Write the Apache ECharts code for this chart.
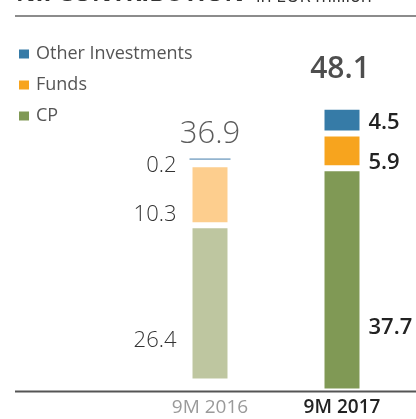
<!DOCTYPE html>
<html>
<head>
<meta charset="utf-8">
<script src="https://cdn.jsdelivr.net/npm/echarts@6/dist/echarts.min.js"></script>
<style>
html,body{margin:0;padding:0;background:#fff;}
#chart{width:416px;height:419px;}
</style>
</head>
<body>
<div id="chart"></div>
<script>
// ---- data ----
var periods = ['9M 2016', '9M 2017'];
var seriesNames = ['Other Investments', 'Funds', 'CP'];
var cp = [26.4, 37.7];
var funds = [10.3, 5.9];
var other = [0.2, 4.5];

var totals = periods.map(function (p, i) {
  return +(cp[i] + funds[i] + other[i]).toFixed(1);
});

// ---- styles ----
var FONT = '"Open Sans", "Noto Sans", sans-serif';
var colors2017 = { 'Other Investments': '#367BA7', 'Funds': '#F7A41E', 'CP': '#809955' };
var colors2016 = { 'Other Investments': '#93B4CF', 'Funds': '#FDCE8E', 'CP': '#BEC6A0' };
var SCALE_MAX = 50;
var GRID_H = 296;

var chart = echarts.init(document.getElementById('chart'), null, { renderer: 'canvas' });

function barSeries(name, values, idx, color, labelCfg, offY, extra) {
  var s = {
    type: 'bar',
    name: name,
    stack: 'y' + idx,
    xAxisIndex: idx,
    yAxisIndex: idx,
    barWidth: 41,
    itemStyle: { color: color, borderColor: '#fff', borderWidth: 3 },
    label: Object.assign({ show: true, offset: [0, offY] }, labelCfg),
    data: [values[idx]],
    silent: true,
    animation: false
  };
  if (extra) Object.assign(s, extra);
  return s;
}

var lab2016 = {
  position: 'left', distance: 13, fontFamily: FONT, fontSize: 22,
  fontWeight: 300, color: '#333'
};
var lab2017 = {
  position: 'right', distance: 6, fontFamily: FONT, fontSize: 22,
  fontWeight: 600, color: '#222'
};

// thin "Other Investments" 2016 segment: small top band with a white gap below it
var thinOtherStyle = {
  borderWidth: 0,
  color: new echarts.graphic.LinearGradient(0, 0, 0, 1, [
    { offset: 0, color: colors2016['Other Investments'] },
    { offset: 0.33, color: colors2016['Other Investments'] },
    { offset: 0.33, color: '#ffffff' },
    { offset: 1, color: '#ffffff' }
  ])
};

var series = [
  // 2017 (grid 1)
  barSeries('CP', cp, 1, colors2017['CP'], lab2017, 48),
  barSeries('Funds', funds, 1, colors2017['Funds'], lab2017, 12),
  barSeries('Other Investments', other, 1, colors2017['Other Investments'], lab2017, 3),
  // 2016 (grid 0)
  barSeries('CP', cp, 0, colors2016['CP'], lab2016, 37),
  barSeries('Funds', funds, 0, colors2016['Funds'], lab2016, 20),
  barSeries('Other Investments', other, 0, colors2016['Other Investments'], lab2016, 4,
    { barMinHeight: 6, itemStyle: thinOtherStyle }),
  // totals
  {
    type: 'scatter', xAxisIndex: 0, yAxisIndex: 0, symbolSize: 1,
    itemStyle: { color: 'rgba(0,0,0,0)' }, silent: true, animation: false,
    label: { show: true, position: 'inside', offset: [0, -29], fontFamily: FONT,
      fontSize: 31, fontWeight: 300, color: '#333',
      formatter: function (p) { return p.value.toFixed(1); } },
    data: [totals[0]]
  },
  {
    type: 'scatter', xAxisIndex: 1, yAxisIndex: 1, symbolSize: 1,
    itemStyle: { color: 'rgba(0,0,0,0)' }, silent: true, animation: false,
    label: { show: true, position: 'inside', offset: [-2, -37], fontFamily: FONT,
      fontSize: 30, fontWeight: 600, color: '#222',
      formatter: function (p) { return p.value.toFixed(1); } },
    data: [totals[1]]
  }
];

var option = {
  backgroundColor: '#fff',
  animation: false,
  grid: [
    { left: 144, width: 132, bottom: 37.5, height: GRID_H },
    { left: 276, width: 132, bottom: 27.5, height: GRID_H }
  ],
  xAxis: [
    { type: 'category', gridIndex: 0, data: [periods[0]],
      axisLine: { show: false }, axisTick: { show: false },
      axisLabel: { margin: 17, fontFamily: FONT, fontSize: 19, color: '#9a9a9a', fontWeight: 400 } },
    { type: 'category', gridIndex: 1, data: [periods[1]],
      axisLine: { show: false }, axisTick: { show: false },
      axisLabel: { margin: 7, fontFamily: FONT, fontSize: 19, color: '#222', fontWeight: 600 } }
  ],
  yAxis: [
    { type: 'value', gridIndex: 0, min: 0, max: SCALE_MAX, show: false, splitLine: { show: false } },
    { type: 'value', gridIndex: 1, min: 0, max: SCALE_MAX, show: false, splitLine: { show: false } }
  ],
  legend: {
    orient: 'vertical', left: 12, top: 40, itemWidth: 12, itemHeight: 11, itemGap: 13,
    icon: 'rect', selectedMode: false,
    textStyle: { fontFamily: FONT, fontSize: 18, color: '#555', padding: [0, 0, 0, 1] },
    data: seriesNames.map(function (n) {
      return { name: n, itemStyle: { color: colors2017[n] } };
    })
  },
  graphic: [
    { type: 'text', silent: true, z: 100,
      style: { x: 16, y: 6, text: 'NII CONTRIBUTION', verticalAlign: 'bottom',
        font: '700 24px ' + FONT, fill: '#333' } },
    { type: 'text', silent: true, z: 100,
      style: { x: 256, y: 6, text: 'in EUR million', verticalAlign: 'bottom',
        font: '400 18px ' + FONT, fill: '#333' } },
    { type: 'line', silent: true, shape: { x1: 15, y1: 16, x2: 416, y2: 16 },
      style: { stroke: '#8c8c8c', lineWidth: 2 } },
    { type: 'line', silent: true, z: 100, shape: { x1: 15, y1: 391.5, x2: 416, y2: 391.5 },
      style: { stroke: '#555', lineWidth: 1.8 } }
  ],
  series: series
};

chart.setOption(option);
</script>
</body>
</html>
